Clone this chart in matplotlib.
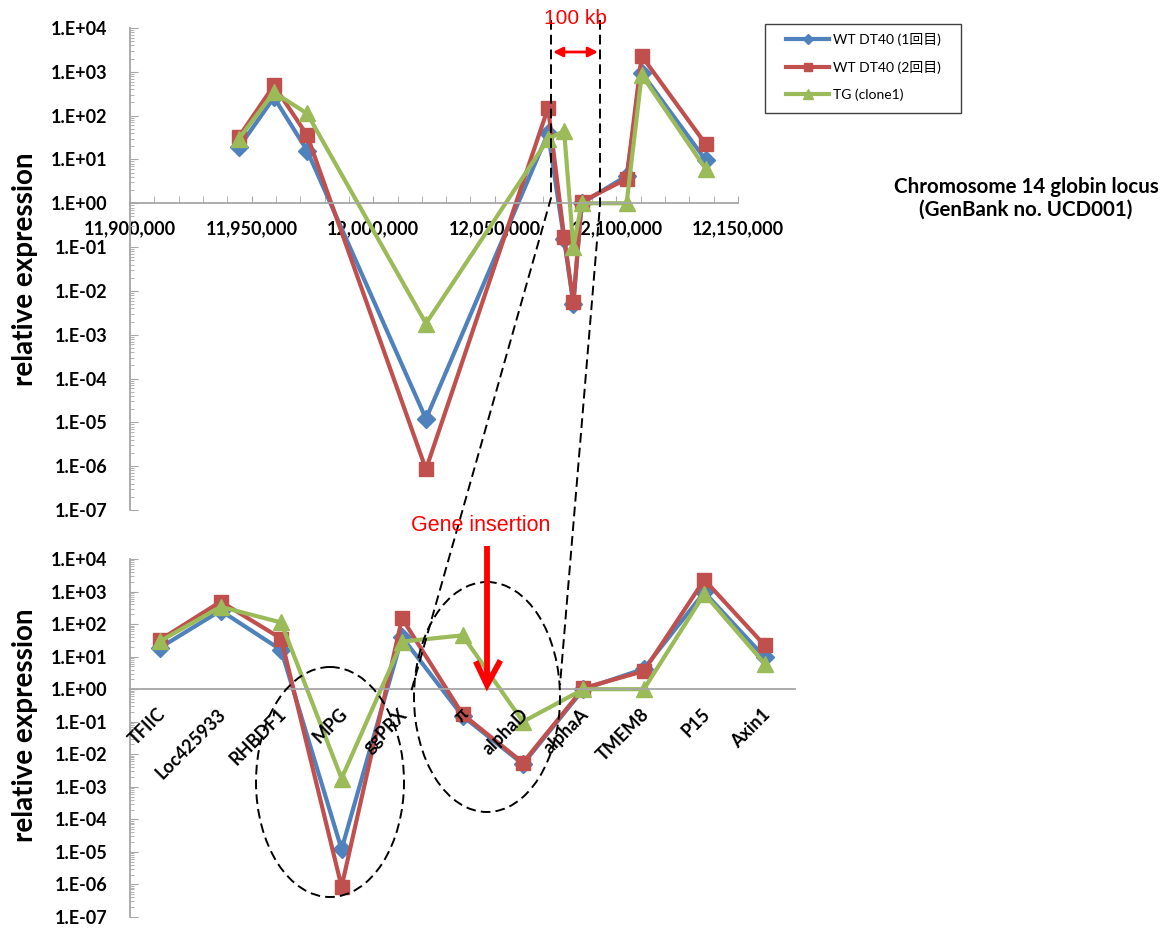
import numpy as np
import matplotlib
matplotlib.use('Agg')
import matplotlib.pyplot as plt
from matplotlib.patches import Ellipse, Rectangle
from matplotlib.ticker import FuncFormatter, MultipleLocator, FixedLocator, NullFormatter

plt.rcParams['font.family'] = ['Lato', 'Noto Sans CJK JP', 'DejaVu Sans']

# genes of the chromosome 14 globin locus, in genomic order
genes = ['TFIIC', 'Loc425933', 'RHBDF1', 'MPG', 'ggPRX', 'π', 'alphaD',
         'alphaA', 'TMEM8', 'P15', 'Axin1']
positions = [11944800, 11959200, 11972800, 12021700, 12071900, 12078500,
             12082300, 12085700, 12104200, 12110400, 12136800]

# relative expression
wt1 = [19, 260, 16, 1.2e-5, 40, 0.15, 0.005, 1.0, 4.2, 950, 9.5]
wt2 = [33, 490, 36, 8.5e-7, 150, 0.17, 0.0055, 1.08, 3.6, 2300, 22]
tg = [30, 340, 112, 1.8e-3, 29, 45, 0.1, 1.0, 1.0, 850, 6.0]

series = [wt1, wt2, tg]
names = ['WT DT40 (1回目)', 'WT DT40 (2回目)', 'TG (clone1)']
colors = ['#4F81BD', '#C0504D', '#9BBB59']
markers = ['D', 's', '^']
msizes = [9, 10, 11]

W, H = 1168, 930
fig = plt.figure(figsize=(W / 100, H / 100), dpi=100)


def px_axes(x0, y0, x1, y1):
    return fig.add_axes([x0 / W, 1 - y1 / H, (x1 - x0) / W, (y1 - y0) / H])


ax1 = px_axes(130, 28, 738, 510)
ax2 = px_axes(130, 559, 795, 917)
grey = '#a6a6a6'

decades = 10.0 ** np.arange(-7, 5)
minor = np.array([d * s for d in decades[:-1] for s in range(2, 10)])


def sci_label(v, pos):
    return '1.E%+03d' % int(round(np.log10(v)))


def style_axis(ax):
    ax.set_yscale('log')
    ax.set_ylim(1e-7, 1e4)
    ax.patch.set_alpha(0)
    for s in ['top', 'right']:
        ax.spines[s].set_visible(False)
    for s in ['left', 'bottom']:
        ax.spines[s].set_color(grey)
        ax.spines[s].set_linewidth(1.3)
    ax.spines['bottom'].set_position(('data', 1))
    ax.yaxis.set_major_locator(FixedLocator(decades))
    ax.yaxis.set_minor_locator(FixedLocator(minor))
    ax.yaxis.set_major_formatter(FuncFormatter(sci_label))
    ax.yaxis.set_minor_formatter(NullFormatter())
    ax.tick_params(axis='y', which='major', direction='in', length=6,
                   color=grey, pad=16, labelsize=13)
    ax.tick_params(axis='y', which='minor', direction='in', length=3, color=grey)
    for lab in ax.get_yticklabels():
        lab.set_fontweight('bold')
    ax.set_ylabel('relative expression', fontsize=20, fontweight='bold')


style_axis(ax1)
style_axis(ax2)
ax1.yaxis.set_label_coords(-0.152, 0.5)
ax2.yaxis.set_label_coords(-0.139, 0.535)

# top: genomic coordinate axis
ax1.set_xlim(11900000, 12150000)
ax1.xaxis.set_major_locator(MultipleLocator(50000))
ax1.xaxis.set_minor_locator(MultipleLocator(10000))
ax1.xaxis.set_major_formatter(FuncFormatter(lambda v, p: '{:,.0f}'.format(v)))
ax1.tick_params(axis='x', which='both', direction='in', length=5, color=grey,
                labelsize=13, pad=12)
for lab in ax1.get_xticklabels():
    lab.set_fontweight('bold')

# bottom: one slot per gene
idx = np.arange(len(genes))
ax2.set_xlim(-0.5, len(genes) - 0.5)
ax2.set_xticks([])
for i, g in zip(idx, genes):
    ax2.annotate(g, (i, 1), xytext=(2, -16), textcoords='offset points',
                 rotation=45, rotation_mode='anchor', ha='right', va='center',
                 fontsize=13, fontweight='bold')

for vals, name, c, m, ms in zip(series, names, colors, markers, msizes):
    ax1.plot(positions, vals, color=c, lw=3, marker=m, ms=ms, label=name)
    ax2.plot(idx, vals, color=c, lw=3, marker=m, ms=ms)

# legend entries, boxed separately below
leg = ax1.legend(loc='upper left', bbox_to_anchor=(786 / W, 1 - 33 / H),
                 bbox_transform=fig.transFigure,
                 prop={'family': ['Lato', 'Noto Sans CJK JP'], 'size': 10},
                 frameon=False, handlelength=3.1, handletextpad=0.25,
                 labelspacing=1.05, borderpad=0, borderaxespad=0,
                 markerscale=0.6)

fig.text(1026 / W, 1 - 198 / H, 'Chromosome 14 globin locus\n(GenBank no. UCD001)',
         ha='center', va='center', multialignment='center', fontsize=14.8,
         fontweight='bold', linespacing=1.15)

# overlay in pixel units for the callouts
ov = fig.add_axes([0, 0, 1, 1])
ov.set_xlim(0, W)
ov.set_ylim(H, 0)
ov.axis('off')
ov.patch.set_alpha(0)

ov.add_patch(Rectangle((765, 24), 196, 89, fill=False, edgecolor='#404040', lw=1.0))

dash = dict(color='black', lw=1.4, linestyle=(0, (5, 2.6)))
ov.plot([551, 551, 411], [20, 198, 692], **dash)
ov.plot([600, 600, 560], [20, 205, 685], **dash)
ov.add_patch(Ellipse((330, 782), 148, 230, fill=False, **dash))
ov.add_patch(Ellipse((487, 697), 146, 230, fill=False, **dash))

ov.annotate('', xy=(553, 52), xytext=(598, 52),
            arrowprops=dict(arrowstyle='<|-|>', color='red', lw=2,
                            mutation_scale=14, shrinkA=0, shrinkB=0))
ov.text(575, 18, '100 kb', color='red', fontsize=15, family='Liberation Sans',
        ha='center', va='center')
ov.text(481, 525, 'Gene insertion', color='red', fontsize=15.5,
        family='Liberation Sans', ha='center', va='center')
ov.plot([487, 487], [546, 683], color='red', lw=4.2, solid_capstyle='butt')
ov.plot([477, 487, 499], [664, 685, 663], color='red', lw=4.2,
        solid_joinstyle='miter')

fig.savefig('out.png', dpi=100)
